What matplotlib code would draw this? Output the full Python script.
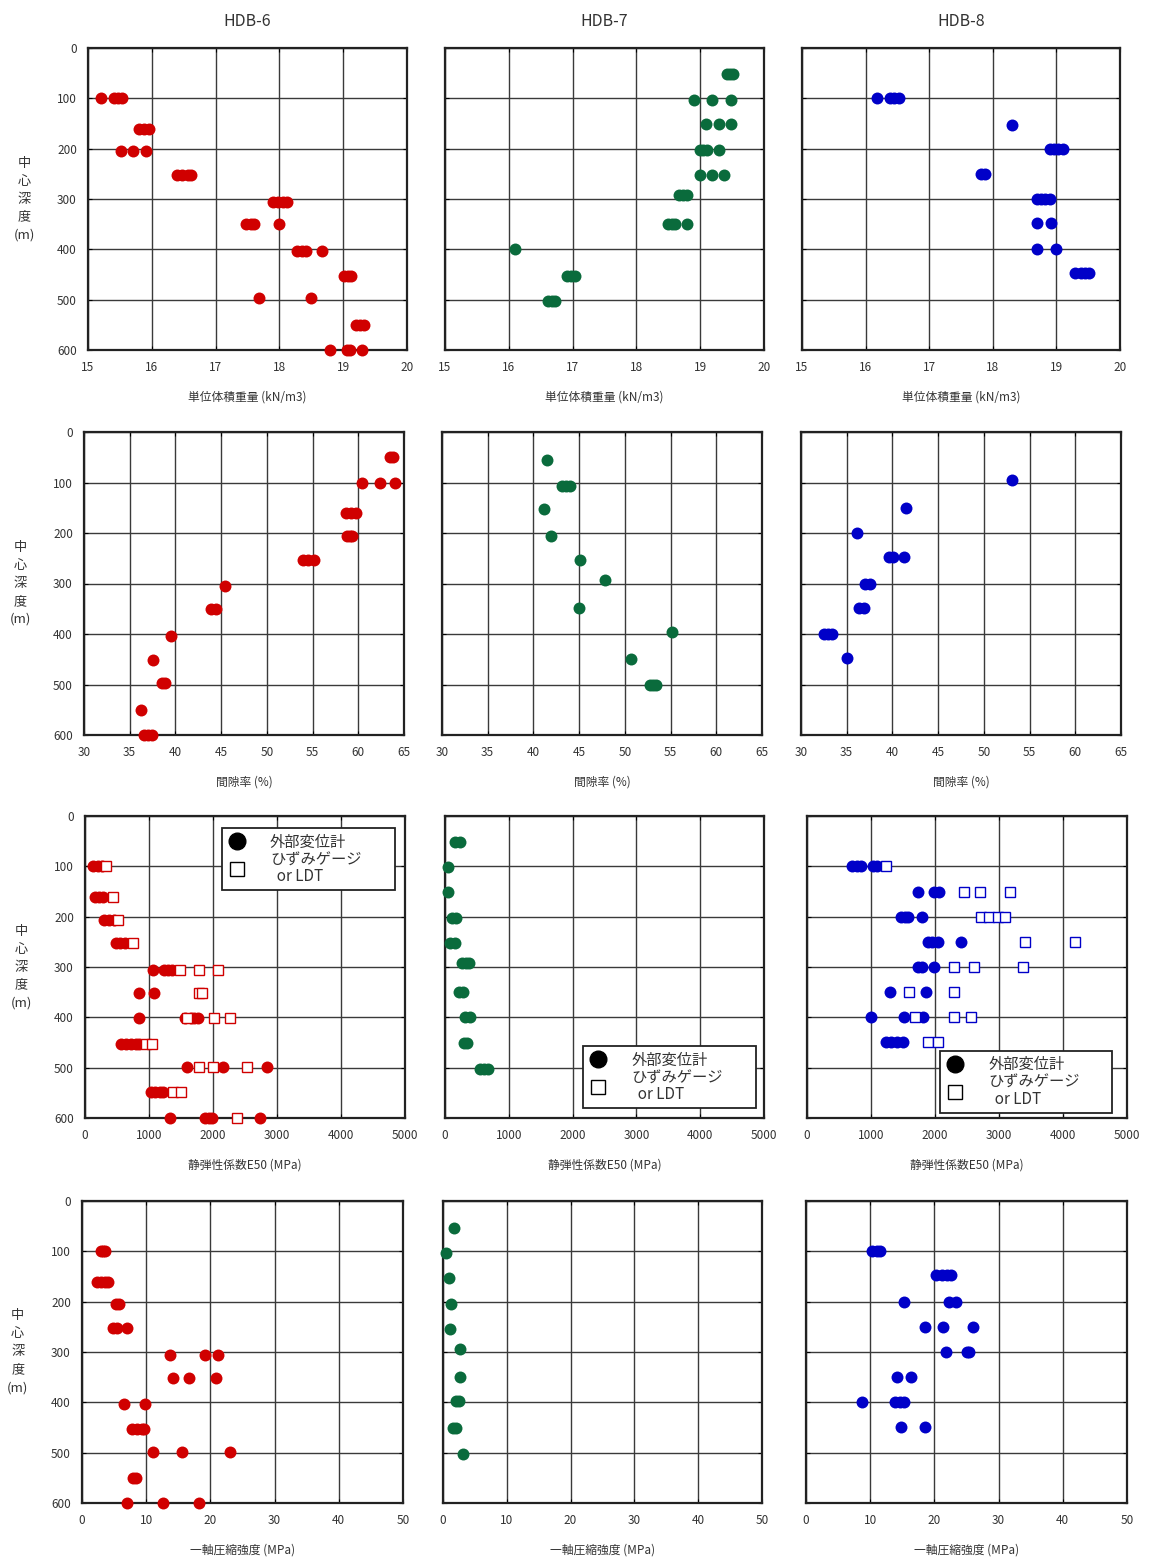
import matplotlib
matplotlib.use("Agg")
import matplotlib.pyplot as plt
from matplotlib.lines import Line2D

plt.rcParams['font.family'] = ['Noto Sans CJK JP', 'DejaVu Sans']

# ---------------- data (depth in m -> values) ----------------
titles = ["HDB-6", "HDB-7", "HDB-8"]
colors = ["#d00000", "#0a6b3c", "#0000c8"]

xlabels = ["単位体積重量 (kN/m3)", "間隙率 (%)", "静弾性係数E50 (MPa)", "一軸圧縮強度 (MPa)"]
ylabel_chars = ["中", "心", "深", "度", "(m)"]
xlims = [(15, 20), (30, 65), (0, 5000), (0, 50)]
xsteps = [1, 5, 1000, 10]
depth_ticks = [0, 100, 200, 300, 400, 500, 600]

# unit weight (kN/m3)
gamma_hdb6 = {100: [15.2, 15.4, 15.47, 15.53], 160: [15.8, 15.88, 15.95],
              205: [15.52, 15.7, 15.91], 252: [16.4, 16.48, 16.56, 16.62],
              305: [17.9, 17.98, 18.05, 18.12], 350: [17.48, 17.55, 17.6, 18.0],
              403: [18.28, 18.35, 18.42, 18.67], 453: [19.02, 19.08, 19.12],
              497: [17.68, 18.49], 550: [19.2, 19.26, 19.32],
              600: [18.8, 19.06, 19.1, 19.3]}
gamma_hdb7 = {51: [19.42, 19.47, 19.52], 103: [18.9, 19.19, 19.49],
              151: [19.09, 19.3, 19.49], 203: [19.0, 19.05, 19.1, 19.3],
              253: [18.99, 19.19, 19.38], 293: [18.67, 18.73, 18.8],
              349: [18.5, 18.56, 18.6, 18.8], 399: [16.1],
              453: [16.92, 16.98, 17.03], 503: [16.62, 16.68, 16.72]}
gamma_hdb8 = {100: [16.18, 16.38, 16.45, 16.52], 152: [18.3],
              200: [18.9, 18.97, 19.03, 19.1], 250: [17.82, 17.88],
              300: [18.7, 18.76, 18.82, 18.9], 348: [18.7, 18.92],
              400: [18.7, 19.0], 448: [19.3, 19.38, 19.45, 19.52]}

# porosity (%)
por_hdb6 = {50: [63.5, 63.8], 100: [60.4, 62.4, 64.0], 160: [58.7, 59.2, 59.7],
            206: [58.8, 59.1, 59.3], 253: [54.0, 54.5, 55.2], 305: [45.4],
            351: [43.9, 44.4], 404: [39.5], 452: [37.6], 497: [38.5, 38.9],
            551: [36.2], 600: [36.6, 37.0, 37.4]}
por_hdb7 = {55: [41.5], 106: [43.1, 43.6, 44.0], 153: [41.2], 206: [41.9],
            253: [45.1], 293: [47.8], 349: [45.0], 397: [55.2], 450: [50.7],
            501: [52.7, 53.1, 53.4]}
por_hdb8 = {95: [53.1], 151: [41.5], 200: [36.1], 247: [39.6, 40.1, 41.3],
            300: [37.0, 37.6], 349: [36.3, 36.9], 400: [32.5, 33.0, 33.4],
            448: [35.0]}

# E50 (MPa): external displacement gauge (filled) / strain gauge or LDT (open)
e50_ext_hdb6 = {100: [130, 200, 260], 160: [160, 220, 280], 206: [300, 380, 450],
                252: [480, 550, 620], 306: [1070, 1230, 1300, 1360],
                351: [850, 1080], 402: [850, 1570, 1650, 1700, 1760],
                453: [560, 640, 720, 790, 850], 498: [1590, 2160, 2840],
                549: [1030, 1100, 1170, 1220], 600: [1330, 1880, 1940, 1980, 2730]}
e50_ldt_hdb6 = {100: [330], 160: [440], 206: [520], 252: [755],
                306: [1480, 1780, 2080], 351: [1780, 1830], 402: [1600, 2020, 2270],
                453: [960, 1040], 498: [1780, 2005, 2530], 549: [1380, 1500],
                600: [2380]}
e50_ext_hdb7 = {51: [150, 230], 102: [52], 150: [52], 202: [110, 170],
                252: [80, 150], 293: [270, 330, 370], 349: [220, 280],
                399: [320, 390], 450: [300, 350], 502: [550, 610, 670]}
e50_ext_hdb8 = {100: [710, 780, 850, 1030, 1100], 150: [1730, 1990, 2060],
                201: [1470, 1530, 1580, 1790], 251: [1890, 1960, 2040, 2410],
                300: [1730, 1800, 1990], 349: [1300, 1860],
                400: [1000, 1520, 1810], 449: [1240, 1320, 1400, 1500]}
e50_ldt_hdb8 = {100: [1230], 150: [2450, 2710, 3170],
                201: [2720, 2850, 2980, 3090], 251: [3400, 4180],
                300: [2290, 2610, 3380], 349: [1600, 2290],
                400: [1680, 2300, 2570], 449: [1890, 2040]}

# unconfined compressive strength (MPa)
ucs_hdb6 = {100: [3.0, 3.3, 3.6], 160: [2.4, 3.0, 3.6, 4.1], 205: [5.3, 5.7],
            253: [4.9, 5.4, 7.0], 305: [13.7, 19.2, 21.2], 351: [14.1, 16.7, 20.9],
            404: [6.5, 9.8], 453: [7.8, 8.5, 9.3, 9.6], 498: [11.0, 15.5, 23.0],
            551: [7.9, 8.4], 600: [7.0, 12.6, 18.2]}
ucs_hdb7 = {54: [1.8], 104: [0.5], 152: [0.9], 204: [1.3], 254: [1.1],
            294: [2.7], 349: [2.6], 398: [2.0, 2.5], 451: [1.6, 2.0], 503: [3.1]}
ucs_hdb8 = {100: [10.3, 11.0, 11.6], 148: [20.2, 21.2, 22.0, 22.6],
            200: [15.3, 22.2, 23.4], 250: [18.5, 21.3, 26.0],
            300: [21.8, 25.0, 25.4], 349: [14.1, 16.3],
            400: [8.8, 13.8, 14.6, 15.2], 449: [14.8, 18.5]}

filled = [[gamma_hdb6, gamma_hdb7, gamma_hdb8],
          [por_hdb6, por_hdb7, por_hdb8],
          [e50_ext_hdb6, e50_ext_hdb7, e50_ext_hdb8],
          [ucs_hdb6, ucs_hdb7, ucs_hdb8]]
opened = {(2, 0): e50_ldt_hdb6, (2, 2): e50_ldt_hdb8}

legend_labels = ["外部変位計", "ひずみゲージ\n  or LDT"]


def flatten(d):
    xs, ys = [], []
    for depth, vals in d.items():
        for v in vals:
            xs.append(v)
            ys.append(depth)
    return xs, ys


# ---------------- layout (pixels) ----------------
W, H = 1153, 1561
fig = plt.figure(figsize=(W / 100, H / 100), dpi=100)

col_px = [[(88, 407), (445, 764), (802, 1120)],
          [(84, 404), (442, 762), (801, 1121)],
          [(85, 405), (445, 764), (807, 1127)],
          [(82, 403), (443, 762), (806, 1127)]]
row_px = [(48, 350), (432, 735), (816, 1118), (1201, 1503)]
legend_pos = {(2, 0): ('upper left', (0.428, 0.5, 0.541, 0.46)),
              (2, 1): ('lower left', (0.433, 0.033, 0.542, 0.3)),
              (2, 2): ('lower left', (0.416, 0.017, 0.537, 0.3))}

for r in range(4):
    top, bot = row_px[r]
    for c in range(3):
        l, rr = col_px[r][c]
        ax = fig.add_axes([l / W, 1 - bot / H, (rr - l) / W, (bot - top) / H])
        xs, ys = flatten(filled[r][c])
        ax.plot(xs, ys, 'o', color=colors[c], markersize=8.6, markeredgewidth=0,
                zorder=3, clip_on=False)
        if (r, c) in opened:
            ox, oy = flatten(opened[(r, c)])
            ax.plot(ox, oy, 's', markerfacecolor='white', markeredgecolor=colors[c],
                    markersize=6.5, markeredgewidth=1.0, zorder=4, clip_on=False)
        x0, x1 = xlims[r]
        ax.set_xlim(x0, x1)
        ax.set_ylim(600, 0)
        ax.set_xticks(list(range(x0, x1 + 1, xsteps[r])))
        ax.set_yticks(depth_ticks)
        ax.grid(True, color='#3a3a3a', linewidth=1.0)
        ax.set_axisbelow(True)
        for s in ax.spines.values():
            s.set_linewidth(1.6)
            s.set_color('#222222')
        ax.tick_params(direction='in', length=3, top=True, right=True,
                       labelsize=8.5, labelcolor='#333333', pad=8)
        if c != 0:
            ax.set_yticklabels([])
        ax.set_xlabel(xlabels[r], fontsize=8.5, color='#333333', labelpad=12)
        if c == 0:
            # vertical (stacked) Japanese axis label
            ph = bot - top
            n = len(ylabel_chars)
            step = 18.0 / ph
            for i, ch in enumerate(ylabel_chars):
                yy = 0.5 + ((n - 1) / 2 - i) * step
                ax.text(-0.2, yy, ch, transform=ax.transAxes, fontsize=9.5,
                        color='#333333', ha='center', va='center')
        if r == 0:
            ax.set_title(titles[c], fontsize=11.5, color='#333333', pad=16)
        if r == 2:
            handles = [Line2D([], [], marker='o', linestyle='none', color='black',
                              markersize=12),
                       Line2D([], [], marker='s', linestyle='none',
                              markerfacecolor='white', markeredgecolor='black',
                              markersize=9.5, markeredgewidth=1.0)]
            loc, anchor = legend_pos[(r, c)]
            leg = ax.legend(handles, legend_labels, loc=loc, bbox_to_anchor=anchor,
                            mode='expand', fontsize=11, frameon=True, fancybox=False,
                            edgecolor='#222222', framealpha=1, borderpad=0.35,
                            handletextpad=1.5, labelspacing=0.05, handlelength=1.3,
                            borderaxespad=0)
            leg.get_frame().set_linewidth(1.3)
            for t in leg.get_texts():
                t.set_linespacing(0.95)
                t.set_color('#333333')
            leg.set_zorder(10)

fig.savefig("out.png", dpi=100, facecolor='white')
